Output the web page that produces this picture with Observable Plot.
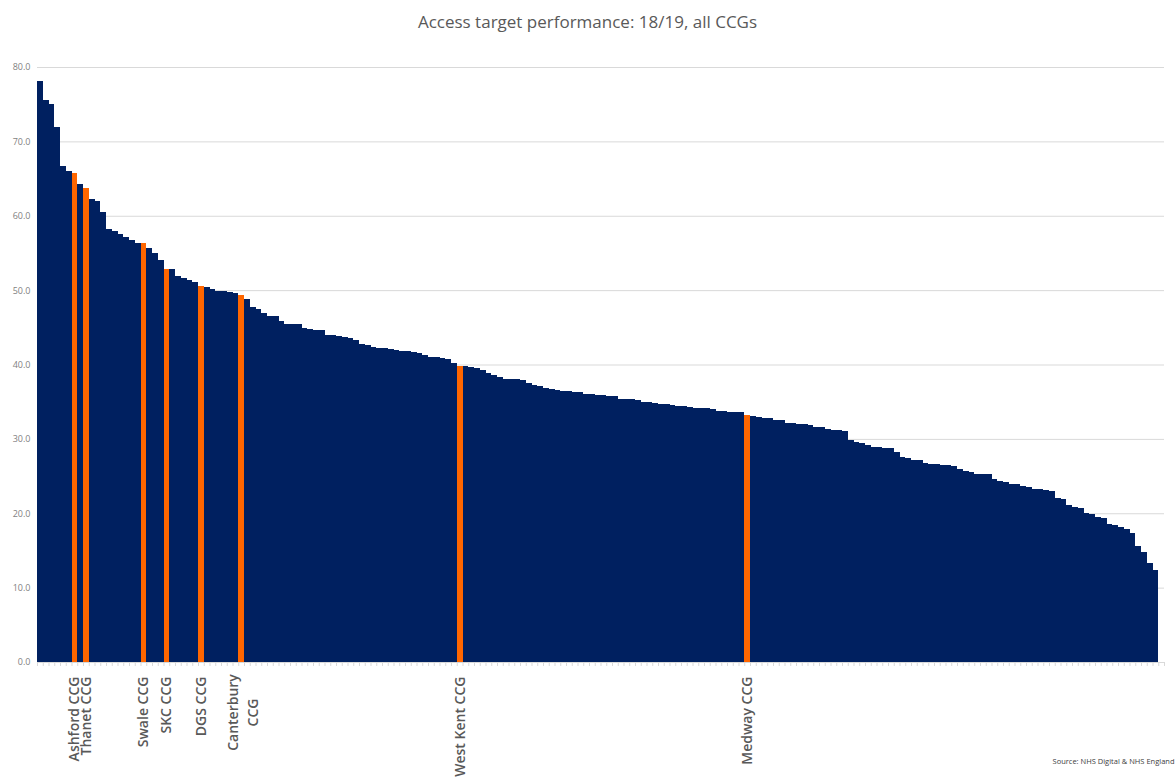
<!DOCTYPE html>
<html>
<head>
<meta charset="utf-8">
<script src="https://cdn.jsdelivr.net/npm/d3@7"></script>
<script src="https://cdn.jsdelivr.net/npm/@observablehq/plot@0.6"></script>
<style>
  body { margin: 0; background: #fff; }
  #title { height: 50px; width: 1175px; text-align: center; font-family: "Open Sans", sans-serif; font-size: 17px; color: #595959; line-height: 44px; }
</style>
</head>
<body>
<div id="title">Access target performance: 18/19, all CCGs</div>
<div id="chart"></div>
<script>
// Access target performance (%) per CCG, sorted descending (195 CCGs)
const values = [
  78.1, 75.5, 75.0, 72.0, 66.7, 66.0, 65.8, 64.3, 63.7, 62.2,
  62.0, 60.5, 58.2, 57.9, 57.6, 57.1, 56.8, 56.4, 56.3, 55.6,
  55.0, 54.0, 52.9, 52.8, 51.9, 51.6, 51.3, 51.1, 50.6, 50.4,
  50.1, 49.9, 49.85, 49.8, 49.65, 49.4, 48.75, 47.75, 47.5, 46.9,
  46.55, 46.5, 45.8, 45.5, 45.45, 45.4, 44.85, 44.75, 44.7, 44.6,
  44.0, 43.9, 43.85, 43.7, 43.6, 43.35, 42.8, 42.6, 42.4, 42.25,
  42.2, 42.05, 41.9, 41.85, 41.8, 41.7, 41.6, 41.25, 41.0, 40.95,
  40.9, 40.8, 40.2, 39.85, 39.8, 39.7, 39.5, 39.25, 38.9, 38.55,
  38.35, 38.1, 38.05, 38.05, 37.95, 37.45, 37.25, 37.1, 36.8, 36.7,
  36.55, 36.4, 36.4, 36.35, 36.3, 36.1, 36.0, 35.95, 35.9, 35.8,
  35.75, 35.4, 35.35, 35.3, 35.2, 35.0, 34.9, 34.85, 34.75, 34.7,
  34.6, 34.45, 34.4, 34.3, 34.2, 34.15, 34.1, 34.0, 33.8, 33.75,
  33.65, 33.6, 33.6, 33.2, 33.05, 32.9, 32.8, 32.75, 32.6, 32.5,
  32.2, 32.15, 31.95, 31.95, 31.9, 31.6, 31.55, 31.3, 31.2, 31.15,
  31.05, 29.85, 29.55, 29.45, 29.2, 28.95, 28.9, 28.8, 28.75, 28.3,
  27.5, 27.45, 27.15, 27.1, 26.7, 26.65, 26.6, 26.55, 26.5, 26.3,
  25.95, 25.7, 25.5, 25.3, 25.28, 25.25, 24.6, 24.4, 24.2, 24.0,
  23.9, 23.6, 23.5, 23.3, 23.25, 23.15, 22.95, 22.0, 21.95, 21.1,
  20.9, 20.7, 20.0, 19.95, 19.5, 19.3, 18.5, 18.4, 18.1, 17.9,
  17.3, 15.6, 14.8, 13.3, 12.4
];
const highlightNames = ["Ashford CCG", "Thanet CCG", "Swale CCG", "SKC CCG", "DGS CCG", "Canterbury\nCCG", "West Kent CCG", "Medway CCG"];
const highlightRanks = [6, 8, 18, 22, 28, 35, 73, 123];
const yTicks = [0, 10, 20, 30, 40, 50, 60, 70, 80];
const categorySlots = 196;
const sourceText = "Source: NHS Digital & NHS England";

const NAVY = "#002060";
const ORANGE = "#FF6600";

const bars = values.map((v, i) => ({i, v, hl: highlightRanks.includes(i)}));
const labels = highlightRanks.map((r, k) => ({r, name: highlightNames[k]}));

const chart = Plot.plot({
  width: 1175,
  height: 730,
  marginTop: 17,
  marginBottom: 118,
  marginLeft: 37,
  marginRight: 11,
  style: {fontFamily: "'Open Sans', sans-serif", color: "#595959", background: "#fff"},
  x: {domain: [0, categorySlots]},
  y: {domain: [0, 80]},
  marks: [
    Plot.gridY(yTicks, {stroke: "#d9d9d9", strokeOpacity: 1, strokeWidth: 1}),
    Plot.rectY(bars.filter(d => !d.hl), {x1: "i", x2: d => d.i + 1, y: "v", fill: NAVY, inset: 0, shapeRendering: "crispEdges"}),
    Plot.rectY(bars.filter(d => d.hl), {x1: "i", x2: d => d.i + 1, y: "v", fill: ORANGE, inset: 0, shapeRendering: "crispEdges"}),
    Plot.ruleY([0], {stroke: "#d9d9d9", strokeWidth: 1}),
    Plot.axisX({ticks: d3.range(categorySlots + 1), tickFormat: () => "", tickSize: 4, stroke: "#d9d9d9", strokeOpacity: 1, label: null}),
    Plot.axisY({ticks: yTicks, tickFormat: d => d.toFixed(1), tickSize: 0, tickPadding: 7, fontSize: 9, fill: "#7f7f7f", label: null}),
    Plot.text(labels.filter(d => !d.name.includes("\n")), {
      x: d => d.r + 0.5, y: () => 0, text: "name", rotate: -90, textAnchor: "end",
      dy: 14, fontSize: 14, fill: "#595959", fontWeight: 600
    }),
    Plot.text(labels.filter(d => d.name.includes("\n")), {
      x: d => d.r + 0.5, y: () => 0, text: "name", rotate: -90, textAnchor: "middle",
      lineAnchor: "middle", lineHeight: 1.45, dy: 50, fontSize: 14, fill: "#595959", fontWeight: 600
    }),
    Plot.text([sourceText], {frameAnchor: "bottom-right", textAnchor: "end", dx: 10, dy: 101, fontSize: 7.5, fill: "#404040"})
  ]
});
document.getElementById("chart").appendChild(chart);
</script>
</body>
</html>
